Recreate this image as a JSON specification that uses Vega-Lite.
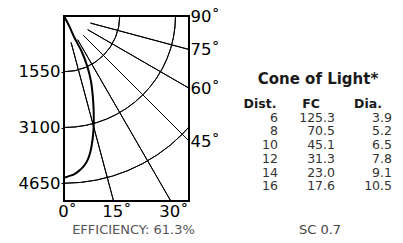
{
  "$schema": "https://vega.github.io/schema/vega-lite/v6.json",
  "padding": {"left": 17, "top": 7, "right": 0, "bottom": 0},
  "config": {"font": "DejaVu Sans", "view": {"stroke": null}},
  "bounds": "flush",
  "spacing": 89,
  "hconcat": [
    {
      "width": 125,
      "height": 185,
      "view": {"stroke": "black", "strokeWidth": 2},
      "resolve": {"axis": {"x": "independent", "y": "independent"}},
      "layer": [
        {
          "data": {"values": [{"cd": 1550}, {"cd": 3100}, {"cd": 4650}]},
          "mark": {"type": "arc", "filled": false, "stroke": "black", "strokeWidth": 1, "clip": true},
          "encoding": {
            "x": {"datum": 0, "type": "quantitative", "scale": {"domain": [0, 3488], "nice": false, "zero": false}, "axis": null},
            "y": {"datum": 0, "type": "quantitative", "scale": {"domain": [0, 5143], "nice": false, "zero": false, "reverse": true}, "axis": null},
            "theta": {"datum": 0, "type": "quantitative", "scale": {"domain": [0, 90], "range": [3.14159265, 1.57079633], "nice": false, "zero": false}},
            "theta2": {"datum": 90},
            "radius": {"field": "cd", "type": "quantitative", "stack": null, "scale": {"type": "linear", "domain": [0, 5143], "range": [0, 185], "nice": false, "zero": false}},
            "radius2": {"field": "cd"}
          }
        },
        {
          "data": {"values": [{"angle": 15}, {"angle": 30}, {"angle": 45}, {"angle": 60}, {"angle": 75}]},
          "mark": {"type": "arc", "filled": false, "stroke": "black", "strokeWidth": 1, "clip": true},
          "encoding": {
            "x": {"datum": 0, "type": "quantitative", "axis": null},
            "y": {"datum": 0, "type": "quantitative", "axis": {"orient": "right", "values": [0, 934.6, 2013.8, 3488], "labelExpr": "datum.value < 1 ? '90˚' : datum.value < 1000 ? '75˚' : datum.value < 3000 ? '60˚' : '45˚'", "ticks": false, "domain": false, "grid": false, "title": null, "labelPadding": 1, "labelFontSize": 16.5, "labelColor": "black", "labelFlush": false, "labelOverlap": false}},
            "theta": {"field": "angle", "type": "quantitative", "stack": null},
            "theta2": {"field": "angle"},
            "radius": {"datum": 760, "type": "quantitative"},
            "radius2": {"datum": 7000}
          }
        },
        {
          "data": {"values": [
            {"i": 0, "x": 0, "y": 0},
            {"i": 1, "x": 150, "y": 290},
            {"i": 2, "x": 300, "y": 620},
            {"i": 3, "x": 500, "y": 1000},
            {"i": 4, "x": 650, "y": 1400},
            {"i": 5, "x": 750, "y": 1800},
            {"i": 6, "x": 805, "y": 2250},
            {"i": 7, "x": 828, "y": 2650},
            {"i": 8, "x": 830, "y": 3000},
            {"i": 9, "x": 812, "y": 3300},
            {"i": 10, "x": 778, "y": 3564},
            {"i": 11, "x": 730, "y": 3800},
            {"i": 12, "x": 647, "y": 4028},
            {"i": 13, "x": 540, "y": 4190},
            {"i": 14, "x": 417, "y": 4306},
            {"i": 15, "x": 280, "y": 4400},
            {"i": 16, "x": 139, "y": 4450},
            {"i": 17, "x": 0, "y": 4495}
          ]},
          "mark": {"type": "line", "color": "black", "strokeWidth": 2, "interpolate": "catmull-rom"},
          "encoding": {
            "x": {"field": "x", "type": "quantitative", "axis": {"values": [0, 1378, 2969], "labelExpr": "datum.value < 1 ? '0˚' : datum.value < 2000 ? '15˚' : '30˚'", "ticks": false, "domain": false, "grid": false, "labelPadding": 2, "labelOffset": 3, "labelFontSize": 16.5, "labelColor": "black", "labelFlush": false, "labelOverlap": false, "title": "EFFICIENCY:  61.3%", "titleFontSize": 13, "titleFontWeight": "normal", "titleColor": "#555555", "titlePadding": 4, "titleX": 69}},
            "y": {"field": "y", "type": "quantitative", "axis": {"values": [1550, 3100, 4650], "format": "d", "tickSize": 3, "tickColor": "black", "domain": false, "grid": false, "title": null, "labelPadding": 1, "labelFontSize": 16.5, "labelColor": "black", "labelFlush": false, "labelOverlap": false}},
            "order": {"field": "i", "type": "quantitative"}
          }
        }
      ]
    },
    {
      "width": 114,
      "height": 217,
      "view": {"stroke": null},
      "layer": [
        {
          "data": {"values": [{"row": "title", "col": "fc", "text": "Cone of Light*"}]},
          "mark": {"type": "text", "fontSize": 15, "fontWeight": "bold", "color": "#1a1a1a", "dx": -17, "dy": 2.6},
          "encoding": {
            "x": {"field": "col", "type": "nominal", "scale": {"type": "point", "domain": ["dist", "fc", "dia"], "padding": 0}, "axis": null},
            "y": {"field": "row", "type": "nominal", "scale": {"type": "point", "domain": ["s0", "s1", "s2", "s3", "title", "s4", "hdr", "6", "8", "10", "12", "14", "16", "s5", "s6", "sc"], "padding": 0.377}, "axis": null},
            "text": {"field": "text"}
          }
        },
        {
          "data": {"values": [{"row": "hdr", "col": "dist", "text": "Dist."}]},
          "mark": {"type": "text", "fontSize": 12.5, "fontWeight": "bold", "color": "#1a1a1a", "dx": -18},
          "encoding": {
            "x": {"field": "col", "type": "nominal"},
            "y": {"field": "row", "type": "nominal"},
            "text": {"field": "text"}
          }
        },
        {
          "data": {"values": [
            {"row": "hdr", "col": "fc", "text": "FC"},
            {"row": "hdr", "col": "dia", "text": "Dia."}
          ]},
          "mark": {"type": "text", "fontSize": 12.5, "fontWeight": "bold", "color": "#1a1a1a", "dx": -24},
          "encoding": {
            "x": {"field": "col", "type": "nominal"},
            "y": {"field": "row", "type": "nominal"},
            "text": {"field": "text"}
          }
        },
        {
          "data": {"values": [
            {"dist": "6", "fc": "125.3", "dia": "3.9"},
            {"dist": "8", "fc": "70.5", "dia": "5.2"},
            {"dist": "10", "fc": "45.1", "dia": "6.5"},
            {"dist": "12", "fc": "31.3", "dia": "7.8"},
            {"dist": "14", "fc": "23.0", "dia": "9.1"},
            {"dist": "16", "fc": "17.6", "dia": "10.5"}
          ]},
          "transform": [{"fold": ["dist", "fc", "dia"], "as": ["col", "val"]}],
          "mark": {"type": "text", "fontSize": 12.5, "align": "right", "color": "#333333"},
          "encoding": {
            "x": {"field": "col", "type": "nominal"},
            "y": {"field": "dist", "type": "nominal"},
            "text": {"field": "val"}
          }
        },
        {
          "data": {"values": [{"row": "sc", "col": "fc", "text": "SC  0.7"}]},
          "mark": {"type": "text", "fontSize": 13, "color": "#444444", "dx": -15, "dy": 1.8},
          "encoding": {
            "x": {"field": "col", "type": "nominal"},
            "y": {"field": "row", "type": "nominal"},
            "text": {"field": "text"}
          }
        }
      ]
    }
  ]
}
